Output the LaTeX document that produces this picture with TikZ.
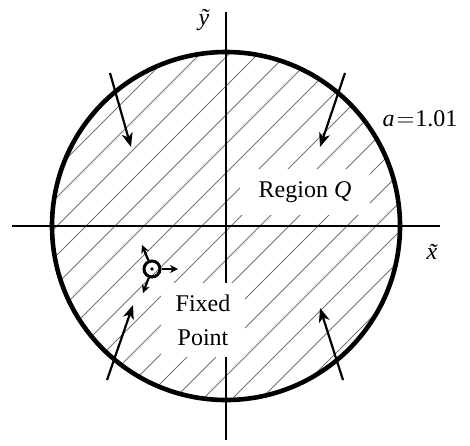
\documentclass[tikz,border=0pt]{standalone}
\usepackage{fontspec}
\setmainfont{Liberation Serif}
\usetikzlibrary{arrows.meta}
\begin{document}
\begin{tikzpicture}[x=1pt,y=-1pt,
  every node/.style={font=\fontsize{24}{34}\selectfont, inner sep=0pt},
  axis/.style={line width=2.8pt},
  rim/.style={line width=4.6pt},
  hatch/.style={line width=0.8pt, black!55},
  flow/.style={line width=2.2pt, -{Stealth[length=14pt,width=11pt,inset=4pt]}},
  small/.style={line width=2.2pt, -{Stealth[length=8pt,width=8pt,inset=2.5pt]}},
  blank/.style={fill=white, inner sep=0pt}]
\useasboundingbox (0,0) rectangle (470,445);
\coordinate (O) at (226,226);
% hatching
\begin{scope}
  \clip (O) circle (174pt);
  \foreach \k in {-9,...,8}{
    \draw[hatch] ({457+29*\k},0) -- (0,{457+29*\k});
  }
\end{scope}
% region label
\node[blank, minimum width=130pt, minimum height=46pt] (rq) at (305,192) {Region {\itshape Q}};
% axes
\coordinate (xl) at (12,226);
\coordinate (xr) at (440,226);
\coordinate (yt) at (226,12);
\coordinate (yb) at (226,440);
\draw[axis] (xl) -- (xr);
\draw[axis] (yt) -- (yb);
% rim
\draw[rim] (O) circle (174pt);
% fixed point label (covers part of the axis)
\node[blank, minimum width=84pt, minimum height=74pt, align=center] (fpl) at (203,320) {Fixed\\Point};
% inflow arrows
\coordinate (a1s) at (110,73);  \coordinate (a1e) at (131,147);
\coordinate (a2s) at (345,73);  \coordinate (a2e) at (320,147);
\coordinate (a3s) at (107,380); \coordinate (a3e) at (133,305);
\coordinate (a4s) at (343,380); \coordinate (a4e) at (320,308);
\draw[flow] (a1s) -- (a1e);
\draw[flow] (a2s) -- (a2e);
\draw[flow] (a3s) -- (a3e);
\draw[flow] (a4s) -- (a4e);
% fixed point marker
\node[circle, draw, line width=3pt, minimum size=16pt, inner sep=0pt] (fp) at (152,269) {};
\fill (fp.center) circle (1.8pt);
\coordinate (t1) at (142,245);
\coordinate (t2) at (178,269);
\coordinate (t3) at (143,293);
\draw[small] (fp) -- (t1);
\draw[small] (fp) -- (t2);
\draw[small] (fp) -- (t3);
% labels
\node (ly) at (204,20) {\itshape ỹ};
\node (lx) at (432,252) {\itshape x̃};
\node (la) at (420,119) {{\itshape a}\hspace{2pt}$=$\hspace{1pt}1.01};
\end{tikzpicture}
\end{document}
